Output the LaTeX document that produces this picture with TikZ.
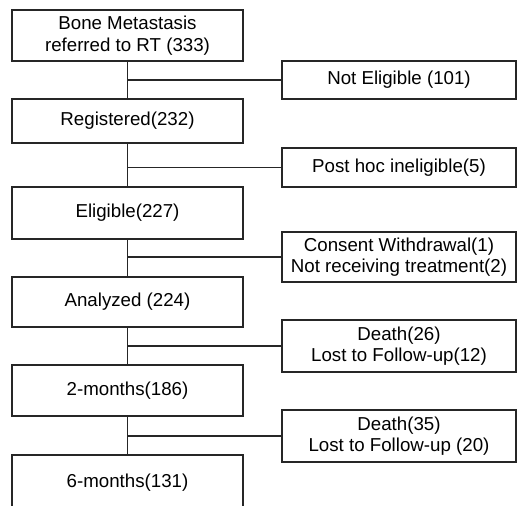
\documentclass[tikz,border=0pt]{standalone}
\usepackage{fontspec}
\setmainfont{Liberation Sans}
\begin{document}
\begin{tikzpicture}[x=1pt,y=-1pt,
  every node/.style={font=\fontsize{18.7}{21.5}\selectfont, align=center, inner sep=0pt},
  lbox/.style={draw=black!85, line width=1.3pt, minimum width=231pt},
  rbox/.style={draw=black!85, line width=1.3pt, minimum width=234pt},
  conn/.style={draw=black!85, line width=1.3pt}]
\useasboundingbox (0,0) rectangle (518,505);
\clip (0,0) rectangle (518,505);
% left column
\node[lbox, minimum height=51pt] (b1) at (127.5,35.5) {Bone Metastasis\\referred to RT (333)};
\node[lbox, minimum height=44pt] (reg) at (127.5,121) {Registered(232)};
\node[lbox, minimum height=52pt] (eli) at (127.5,213) {Eligible(227)};
\node[lbox, minimum height=50pt] (ana) at (127.5,302) {Analyzed (224)};
\node[lbox, minimum height=51pt] (m2) at (127.5,390.5) {2-months(186)};
\node[lbox, minimum height=56pt] (m6) at (127.5,483) {6-months(131)};
% right column
\node[rbox, minimum height=38pt] (ne) at (399,80) {Not Eligible (101)};
\node[rbox, minimum height=39pt] (ph) at (399,167.5) {Post hoc ineligible(5)};
\node[rbox, minimum height=50pt] (cw) at (399,257) {Consent Withdrawal(1)\\Not receiving treatment(2)};
\node[rbox, minimum height=52pt] (d1) at (399,346) {Death(26)\\Lost to Follow-up(12)};
\node[rbox, minimum height=52pt] (d2) at (399,436) {Death(35)\\Lost to Follow-up (20)};
% vertical connectors
\draw[conn] (b1.south) -- (reg.north);
\draw[conn] (reg.south) -- (eli.north);
\draw[conn] (eli.south) -- (ana.north);
\draw[conn] (ana.south) -- (m2.north);
\draw[conn] (m2.south) -- (m6.north);
% horizontal connectors
\draw[conn] (b1.south |- ne.west) -- (ne.west);
\draw[conn] (reg.south |- ph.west) -- (ph.west);
\draw[conn] (eli.south |- cw.west) -- (cw.west);
\draw[conn] (ana.south |- d1.west) -- (d1.west);
\draw[conn] (m2.south |- d2.west) -- (d2.west);
\end{tikzpicture}
\end{document}
